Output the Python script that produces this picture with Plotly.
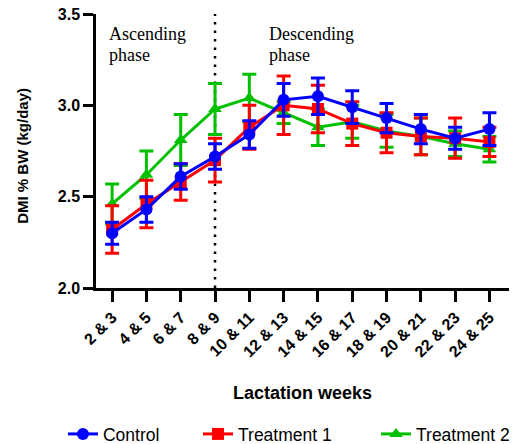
import plotly.graph_objects as go

weeks = ["2 & 3", "4 & 5", "6 & 7", "8 & 9", "10 & 11", "12 & 13", "14 & 15",
         "16 & 17", "18 & 19", "20 & 21", "22 & 23", "24 & 25"]
control = [2.30, 2.43, 2.61, 2.72, 2.84, 3.03, 3.05, 2.99, 2.93, 2.87, 2.82, 2.87]
control_err = [0.06, 0.07, 0.07, 0.07, 0.075, 0.09, 0.10, 0.09, 0.08, 0.08, 0.06, 0.09]
treat1 = [2.32, 2.46, 2.58, 2.70, 2.88, 3.00, 2.98, 2.90, 2.85, 2.83, 2.82, 2.80]
treat1_err = [0.13, 0.13, 0.10, 0.12, 0.12, 0.16, 0.13, 0.12, 0.11, 0.10, 0.11, 0.08]
treat2 = [2.46, 2.62, 2.81, 2.98, 3.04, 2.96, 2.88, 2.91, 2.86, 2.83, 2.79, 2.76]
treat2_err = [0.11, 0.13, 0.14, 0.14, 0.13, 0.06, 0.10, 0.09, 0.09, 0.10, 0.07, 0.07]
y_ticks = [2.0, 2.5, 3.0, 3.5]

xs = list(range(len(weeks)))

fig = go.Figure()
series = [
    ("Treatment 2", treat2, treat2_err, "#00C000", "triangle-up", "legend3"),
    ("Treatment 1", treat1, treat1_err, "#FF0000", "square", "legend2"),
    ("Control", control, control_err, "#0000FF", "circle", "legend"),
]
for name, vals, errs, col, sym, lg in series:
    fig.add_trace(go.Scatter(
        x=xs, y=vals, name=name, mode="lines+markers", legend=lg,
        line=dict(color=col, width=3),
        marker=dict(color=col, symbol=sym, size=12),
        error_y=dict(type="data", array=errs, visible=True, color=col,
                     thickness=3, width=7),
    ))

fig.add_shape(type="line", x0=3, x1=3, y0=2.0, y1=3.5, xref="x", yref="y",
              line=dict(color="black", width=2.5, dash="2.5px,6px"), layer="below")

serif = dict(family="Liberation Serif", size=18, color="black")
for xx, lines in [(-0.05, ["Ascending", "phase"]), (4.6, ["Descending", "phase"])]:
    for i, t in enumerate(lines):
        fig.add_annotation(x=xx, y=3.392 - i * 0.118, xref="x", yref="y", text=t,
                           showarrow=False, xanchor="left", yanchor="middle",
                           xshift=-3, font=serif)

# y-axis title as rotated annotation
fig.add_annotation(x=-0.177, y=0.482, xref="paper", yref="paper",
                   text="<b>DMI % BW (kg/day)</b>", textangle=-90, showarrow=False,
                   xanchor="center", yanchor="middle",
                   font=dict(family="Liberation Sans", size=15, color="black"))

legfont = dict(size=17.5, family="Liberation Sans", color="black")
def leg(xp):
    return dict(orientation="h", x=xp, xanchor="left", y=-0.533, yanchor="middle",
                font=legfont, bgcolor="rgba(0,0,0,0)")

fig.update_layout(
    width=516, height=444,
    margin=dict(l=96, r=7, t=14, b=156, autoexpand=False),
    plot_bgcolor="white", paper_bgcolor="white",
    font=dict(family="Liberation Sans", color="black"),
    showlegend=True,
    legend=leg(-0.08), legend2=leg(0.247), legend3=leg(0.678),
    xaxis=dict(
        range=[-0.47, 11.57], tickmode="array", tickvals=xs, ticktext=weeks,
        tickangle=-45, showgrid=False, zeroline=False, automargin=False,
        showline=True, linecolor="black", linewidth=2.5,
        ticks="outside", ticklen=11, tickwidth=2.5, tickcolor="black",
        tickfont=dict(size=16, family="Liberation Sans", weight="bold"),
        title=dict(text="<b>Lactation weeks</b>", font=dict(size=18), standoff=28),
    ),
    yaxis=dict(
        range=[2.0, 3.5], tickmode="array", tickvals=y_ticks,
        ticktext=["%.1f" % v for v in y_ticks],
        showgrid=False, zeroline=False, automargin=False,
        showline=True, linecolor="black", linewidth=2.5,
        ticks="outside", ticklen=10, tickwidth=2.5, tickcolor="black",
        tickfont=dict(size=16, family="Liberation Sans", weight="bold"),
    ),
)

fig.write_html("out.html", config={"displayModeBar": False},
               post_script="document.body.style.margin='0';document.body.style.padding='0';document.body.style.overflow='hidden';")
